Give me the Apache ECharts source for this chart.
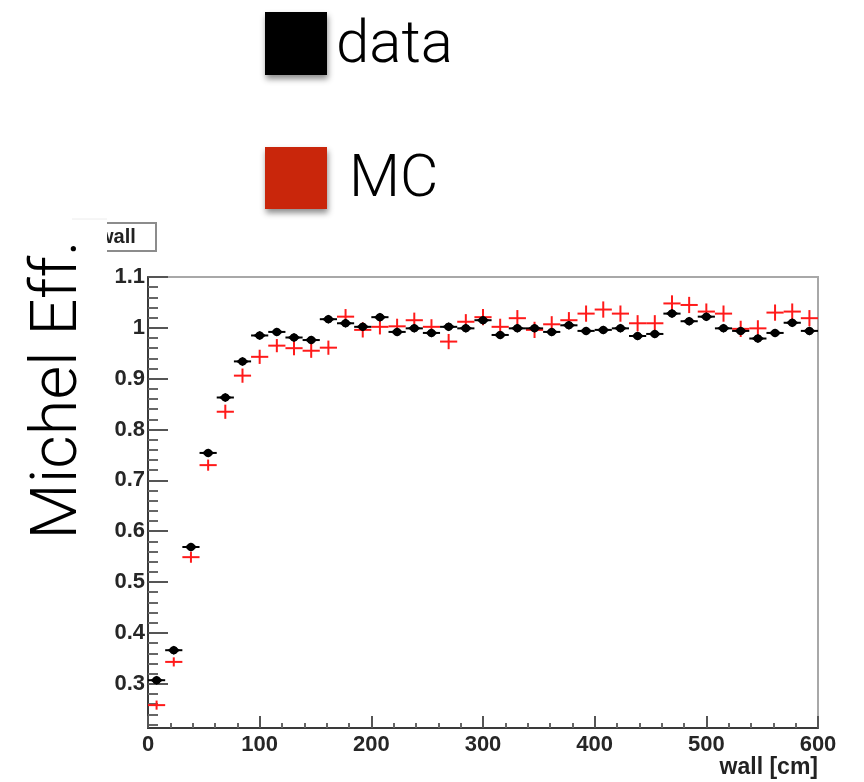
<!DOCTYPE html>
<html>
<head>
<meta charset="utf-8">
<title>Michel electron tagging efficiency vs wall</title>
<script src="https://cdn.jsdelivr.net/npm/echarts@6/dist/echarts.min.js"></script>
<style>
  html, body { margin: 0; padding: 0; background: #fff; }
  #chart { width: 864px; height: 782px; }
</style>
</head>
<body>
<div id="chart"></div>
<script>
// Bin centres along "wall" (cm): 39 equal bins over 0-600
const wallCenters = [
  7.69, 23.08, 38.46, 53.85, 69.23, 84.62, 100.00, 115.38, 130.77, 146.15,
  161.54, 176.92, 192.31, 207.69, 223.08, 238.46, 253.85, 269.23, 284.62, 300.00,
  315.38, 330.77, 346.15, 361.54, 376.92, 392.31, 407.69, 423.08, 438.46, 453.85,
  469.23, 484.62, 500.00, 515.38, 530.77, 546.15, 561.54, 576.92, 592.31
];
const binHalfWidth = 7.69;

// Measured Michel efficiency (data) and its uncertainty
const dataEff = [
  0.307, 0.366, 0.569, 0.754, 0.863, 0.934, 0.985, 0.992, 0.981, 0.976,
  1.017, 1.009, 1.002, 1.021, 0.992, 0.999, 0.990, 1.002, 0.999, 1.015,
  0.986, 0.999, 0.999, 0.992, 1.005, 0.994, 0.996, 0.999, 0.984, 0.988,
  1.028, 1.013, 1.022, 0.999, 0.994, 0.979, 0.990, 1.010, 0.994
];
const dataErr = [
  0.004, 0.004, 0.005, 0.005, 0.005, 0.005, 0.005, 0.005, 0.005, 0.005,
  0.005, 0.005, 0.005, 0.005, 0.005, 0.005, 0.005, 0.005, 0.005, 0.005,
  0.005, 0.005, 0.005, 0.005, 0.005, 0.005, 0.005, 0.005, 0.005, 0.005,
  0.005, 0.005, 0.005, 0.005, 0.005, 0.005, 0.005, 0.005, 0.005
];

// Simulated Michel efficiency (MC) and its uncertainty
const mcEff = [
  0.258, 0.343, 0.549, 0.730, 0.835, 0.906, 0.943, 0.965, 0.960, 0.955,
  0.961, 1.022, 0.996, 1.002, 1.003, 1.015, 1.002, 0.973, 1.012, 1.021,
  1.002, 1.019, 0.996, 1.007, 1.015, 1.028, 1.036, 1.028, 1.009, 1.009,
  1.048, 1.045, 1.032, 1.028, 0.998, 0.999, 1.030, 1.032, 1.019
];
const mcErr = [
  0.007, 0.007, 0.009, 0.009, 0.012, 0.012, 0.012, 0.011, 0.012, 0.012,
  0.012, 0.013, 0.013, 0.013, 0.013, 0.013, 0.013, 0.013, 0.013, 0.014,
  0.014, 0.014, 0.014, 0.014, 0.014, 0.014, 0.014, 0.014, 0.014, 0.014,
  0.014, 0.014, 0.014, 0.014, 0.014, 0.014, 0.014, 0.014, 0.014
];

// Axis ranges and tick positions
const xMin = 0, xMax = 600, xInterval = 100;
const yMin = 0.213, yMax = 1.1;
const yMajorTicks = [0.3, 0.4, 0.5, 0.6, 0.7, 0.8, 0.9, 1.0, 1.1];
const yMinorTicks = [];
for (let k = 11; k <= 55; k++) {
  const v = Math.round(k * 2) / 100;
  if (Math.round(v * 100) % 10 !== 0) yMinorTicks.push(v);
}

const chart = echarts.init(document.getElementById('chart'), null, { renderer: 'canvas' });

// Bin-width horizontal bar plus vertical error bar; optional filled marker
function errorBar(color, withMarker) {
  return function (params, api) {
    const x = api.value(0), y = api.value(1), e = api.value(2);
    const l = api.coord([x - binHalfWidth, y]);
    const r = api.coord([x + binHalfWidth, y]);
    const t = api.coord([x, y + e]);
    const b = api.coord([x, y - e]);
    const c = api.coord([x, y]);
    const children = [
      { type: 'line', shape: { x1: l[0], y1: l[1], x2: r[0], y2: r[1] },
        style: { stroke: color, lineWidth: 2 } },
      { type: 'line', shape: { x1: t[0], y1: t[1] - 1, x2: b[0], y2: b[1] + 1 },
        style: { stroke: color, lineWidth: 2 } }
    ];
    if (withMarker) {
      children.push({
        type: 'polygon',
        shape: { points: [[c[0] - 6.5, c[1]], [c[0], c[1] - 4.5], [c[0] + 6.5, c[1]], [c[0], c[1] + 4.5]] },
        style: { fill: color }
      });
      children.push({ type: 'circle', shape: { cx: c[0], cy: c[1], r: 4 }, style: { fill: color } });
    }
    return { type: 'group', children: children };
  };
}

const dataPoints = wallCenters.map((x, i) => [x, dataEff[i], dataErr[i]]);
const mcPoints = wallCenters.map((x, i) => [x, mcEff[i], mcErr[i]]);

const tickFont = { fontFamily: 'Liberation Sans, Arial, sans-serif', fontWeight: 'bold', fontSize: 22, color: '#262626' };
const lightFont = 'Roboto, "Open Sans", "Liberation Sans", sans-serif';

const option = {
  backgroundColor: '#ffffff',
  animation: false,
  grid: {
    left: 148, right: 46, top: 277, bottom: 54,
    show: true, borderColor: '#a8a8a8', borderWidth: 2, backgroundColor: 'transparent',
    outerBoundsMode: 'none'
  },
  xAxis: {
    type: 'value', min: xMin, max: xMax, interval: xInterval,
    axisLine: { show: true, onZero: false, lineStyle: { color: '#3a3a3a', width: 2 } },
    axisTick: { show: true, inside: true, length: 12, lineStyle: { color: '#555', width: 2 } },
    minorTick: { show: true, splitNumber: 5, length: 5, lineStyle: { color: '#666', width: 2 } },
    axisLabel: Object.assign({ margin: 6 }, tickFont),
    splitLine: { show: false }
  },
  yAxis: [
    {
      type: 'value', min: yMin, max: yMax, position: 'left',
      axisLine: { show: true, onZero: false, lineStyle: { color: '#3a3a3a', width: 2 } },
      axisTick: { show: true, inside: true, length: 20, customValues: yMajorTicks,
                  lineStyle: { color: '#555', width: 2 } },
      axisLabel: Object.assign({
        margin: 3, customValues: yMajorTicks,
        formatter: function (v) { return String(Number(v.toFixed(2))); }
      }, tickFont),
      splitLine: { show: false }
    },
    {
      type: 'value', min: yMin, max: yMax, position: 'left',
      axisLine: { show: false },
      axisTick: { show: true, inside: true, length: 10, customValues: yMinorTicks,
                  lineStyle: { color: '#666', width: 2 } },
      axisLabel: { show: false },
      splitLine: { show: false }
    }
  ],
  series: [
    {
      name: 'MC', type: 'custom', xAxisIndex: 0, yAxisIndex: 0,
      renderItem: errorBar('#ff1a1a', false),
      encode: { x: 0, y: 1 }, data: mcPoints, z: 3
    },
    {
      name: 'data', type: 'custom', xAxisIndex: 0, yAxisIndex: 0,
      renderItem: errorBar('#000000', true),
      encode: { x: 0, y: 1 }, data: dataPoints, z: 4
    }
  ],
  graphic: [
    // histogram title box, partly hidden behind the y-axis caption
    { type: 'rect', left: 96, top: 222, shape: { width: 59, height: 28 },
      style: { fill: '#fff', stroke: '#8c8c8c', lineWidth: 2 }, z: 10 },
    { type: 'text', x: 98, y: 237,
      style: { text: 'wall', fill: '#222', font: 'bold 20px "Liberation Sans", Arial, sans-serif',
               verticalAlign: 'middle', align: 'left' }, z: 11 },
    { type: 'rect', left: 0, top: 219, shape: { width: 107, height: 340 },
      style: { fill: '#fff' }, z: 12 },
    { type: 'line', shape: { x1: 72, y1: 219, x2: 107, y2: 219 },
      style: { stroke: '#ececec', lineWidth: 1 }, z: 12 },
    // y-axis caption
    { type: 'text', x: 60, y: 390, rotation: Math.PI / 2,
      style: { text: 'Michel Eff.', fill: '#000', font: '300 65px ' + lightFont,
               align: 'center', verticalAlign: 'middle' }, z: 13 },
    // x-axis caption
    { type: 'text', x: 818, y: 768,
      style: { text: 'wall [cm]', fill: '#222', font: 'bold 23px "Liberation Sans", Arial, sans-serif',
               align: 'right', verticalAlign: 'middle' }, z: 10 },
    // legend
    { type: 'rect', left: 265, top: 12, shape: { width: 62, height: 63 },
      style: { fill: '#000', shadowBlur: 6, shadowOffsetY: 4, shadowOffsetX: 1, shadowColor: 'rgba(0,0,0,0.45)' }, z: 10 },
    { type: 'text', x: 336, y: 47,
      style: { text: 'data', fill: '#000', font: '300 60px ' + lightFont,
               align: 'left', verticalAlign: 'middle' }, z: 10 },
    { type: 'rect', left: 265, top: 147, shape: { width: 62, height: 62 },
      style: { fill: '#c9260b', shadowBlur: 6, shadowOffsetY: 4, shadowOffsetX: 1, shadowColor: 'rgba(0,0,0,0.45)' }, z: 10 },
    { type: 'text', x: 349, y: 181,
      style: { text: 'MC', fill: '#000', font: '300 59px ' + lightFont,
               align: 'left', verticalAlign: 'middle' }, z: 10 }
  ]
};

chart.setOption(option);
</script>
</body>
</html>
